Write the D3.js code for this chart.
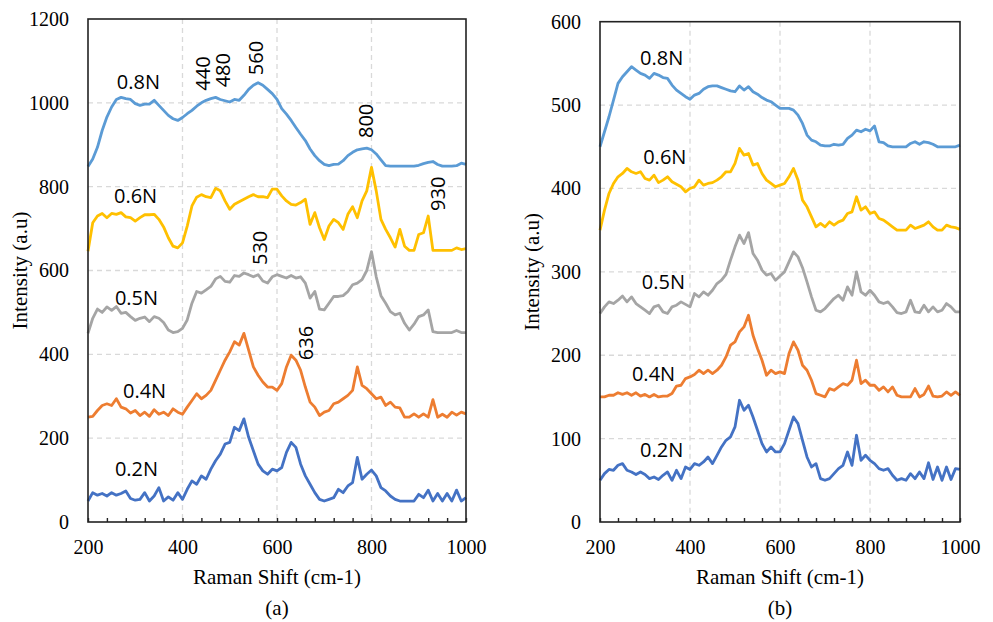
<!DOCTYPE html>
<html><head><meta charset="utf-8">
<script src="https://cdn.jsdelivr.net/npm/d3@7"></script>
<style>
body{margin:0;background:#fff}
.serif{font-family:"Liberation Serif","Times New Roman",Times,"DejaVu Serif",serif;}
.sans{font-family:"Open Sans","Noto Sans",sans-serif;}
</style>
</head><body>
<svg id="c" width="993" height="622"></svg>
<script>
// Raman shift grid (cm-1)
const shift = [200,210,220,230,240,250,260,270,280,290,300,310,320,330,340,350,360,370,380,390,
400,410,420,430,440,450,460,470,480,490,500,510,520,530,540,550,560,570,580,590,
600,610,620,630,640,650,660,670,680,690,700,710,720,730,740,750,760,770,780,790,
800,810,820,830,840,850,860,870,880,890,900,910,920,930,940,950,960,970,980,990,1000];

const seriesNames = ["0.8N","0.6N","0.5N","0.4N","0.2N"];
const seriesColors = ["#5B9BD5","#FFC000","#A5A5A5","#ED7D31","#4472C4"];

// Panel (a)
const a08 = [848,866,894,934,966,990,1008,1013,1010,1008,
998,994,997,997,1006,994,982,970,962,958,
965,974,982,992,1000,1006,1010,1013,1008,1005,
1002,1008,1006,1018,1032,1042,1048,1042,1032,1022,
1008,986,973,958,941,925,910,890,874,862,
853,850,853,854,862,874,882,888,890,892,
888,878,864,850,849,849,849,849,849,849,
851,855,858,860,853,849,849,849,850,856,853];
const a06 = [646,714,730,736,726,736,734,738,728,726,
718,726,733,733,734,722,704,678,658,654,
666,706,754,775,781,776,774,796,790,766,
746,758,764,770,776,781,776,776,774,794,
794,778,766,758,756,762,770,710,738,702,
674,706,722,714,698,734,752,726,766,790,
846,790,722,698,678,656,698,658,648,648,
686,690,730,648,648,648,648,648,654,650,652];
const a05 = [450,486,508,500,513,505,514,498,500,490,
481,486,489,478,490,486,476,458,452,454,
462,482,522,550,546,554,562,580,586,574,
572,588,586,594,590,585,590,575,570,585,
590,586,582,588,582,585,570,534,550,508,
506,522,538,538,540,550,566,570,578,600,
645,585,540,522,502,494,498,474,458,472,
490,494,506,454,452,452,452,452,457,452,452];
const a04 = [250,252,266,278,282,278,294,274,270,260,
266,254,262,252,268,257,262,254,270,262,
257,274,290,306,294,302,314,338,362,386,
406,430,422,450,410,370,350,334,322,322,
314,330,370,398,386,362,322,286,274,254,
262,266,282,286,294,302,314,370,326,318,
306,294,298,278,286,274,272,250,250,258,
250,258,250,292,250,257,250,262,255,262,258];
const a02 = [50,70,64,68,62,70,64,68,74,56,
52,54,70,50,62,82,50,60,52,70,
54,78,98,90,110,102,126,146,162,186,
190,226,218,246,202,170,138,122,114,126,
122,130,166,190,178,138,110,90,70,54,
50,54,58,78,70,86,94,154,102,114,
124,110,82,74,62,54,50,50,50,50,
66,58,76,50,68,50,68,50,76,50,58];

// Panel (b)
const b08 = [450,468,486,506,526,534,540,546,542,538,
536,532,538,536,533,532,524,518,514,510,
507,512,514,519,522,523,523,521,519,517,
516,523,518,522,516,513,509,506,504,500,
496,496,496,494,488,478,464,458,456,452,
451,451,453,452,453,460,464,470,468,471,
469,475,456,455,451,450,450,450,450,454,
456,453,456,455,453,450,450,450,450,450,452];
const b06 = [350,374,394,406,414,418,424,420,418,420,
412,410,416,407,410,414,408,405,402,396,
400,402,410,404,406,407,410,414,420,420,
430,448,440,442,428,430,418,410,406,402,
404,406,414,424,410,386,378,366,354,358,
354,360,356,360,362,370,372,390,374,378,
370,372,364,362,358,354,350,350,350,356,
352,354,356,360,354,350,350,356,354,353,351];
const b05 = [250,258,264,262,266,271,264,270,262,258,
254,250,258,260,252,250,258,260,264,261,
258,274,270,276,272,278,286,290,297,314,
330,344,334,347,322,314,302,296,298,290,
295,300,312,324,318,305,288,270,254,252,
256,262,268,272,266,282,272,300,276,272,
278,272,264,262,264,258,251,250,252,266,
252,251,260,252,258,252,254,262,258,252,252];
const b04 = [150,150,152,152,155,153,155,152,155,151,
153,150,153,150,151,151,154,163,164,172,
174,177,182,178,182,178,182,188,198,212,
216,228,234,248,224,208,194,176,182,178,
180,178,202,216,206,188,182,170,154,152,
150,160,158,162,166,164,170,194,166,170,
164,164,158,162,156,162,152,150,150,150,
160,150,153,163,151,150,151,156,152,156,152];
const b02 = [50,58,63,62,68,70,62,60,57,60,
57,52,54,51,56,60,50,62,52,66,
63,70,68,72,78,70,80,90,98,102,
114,146,134,140,126,110,94,84,90,84,
84,94,110,126,118,98,78,66,70,52,
50,52,58,64,68,84,68,104,74,80,
74,70,64,62,64,56,50,52,50,58,
52,60,52,71,51,66,50,66,51,64,63];

const xTicks = [200,400,600,800,1000];
const xMinorTicks = [200,240,280,320,360,400,440,480,520,560,600,640,680,720,760,800,840,880,920,960,1000];
const yTicksA = [0,200,400,600,800,1000,1200];
const yTicksB = [0,100,200,300,400,500,600];

// label anchors in data units
const labelPosA = [[261,1033],[255,761],[257,517],[274,295],[257,109]];
const labelPosB = [[289,548],[296,429],[293,279],[271,169],[289,78]];
const peakTextA = ["440","480","560","800","930","530","636"];
const peakPosA = [[458,1029],[500,1037],[570,1066],[803,916],[955,742],[578,613],[676,386]];

const svg = d3.select("#c");
svg.append("rect").attr("width",993).attr("height",622).attr("fill","#fff");
const fmt = d3.format("d");

function panel(cfg){
  const g = svg.append("g");
  const x = d3.scaleLinear().domain([200,1000]).range([cfg.x0,cfg.x1]);
  const y = d3.scaleLinear().domain([0,cfg.yMax]).range([cfg.yb,cfg.yt]);
  // grid
  g.selectAll(".hg").data(cfg.yTicks.filter(v=>v>0 && v<cfg.yMax)).enter().append("line")
    .attr("x1",cfg.x0).attr("x2",cfg.x1).attr("y1",d=>y(d)).attr("y2",d=>y(d))
    .attr("stroke","#d9d9d9").attr("stroke-width",1.3).attr("stroke-dasharray","5,4");
  g.selectAll(".vg").data(xTicks.filter(v=>v>200 && v<1000)).enter().append("line")
    .attr("x1",d=>x(d)).attr("x2",d=>x(d)).attr("y1",cfg.yt).attr("y2",cfg.yb)
    .attr("stroke","#d9d9d9").attr("stroke-width",1.3).attr("stroke-dasharray","5,4");
  // lines
  const line = d3.line().x((d,i)=>x(shift[i])).y(d=>y(d));
  cfg.series.forEach((s,i)=>{
    g.append("path").datum(s).attr("d",line).attr("fill","none")
      .attr("stroke",seriesColors[i]).attr("stroke-width",2.8).attr("stroke-linejoin","round");
  });
  // border
  g.append("rect").attr("x",cfg.x0).attr("y",cfg.yt).attr("width",cfg.x1-cfg.x0).attr("height",cfg.yb-cfg.yt)
    .attr("fill","none").attr("stroke","#222").attr("stroke-width",1.6);
  // minor ticks
  const minor = g.append("g").attr("transform",`translate(0,${cfg.yb})`)
    .call(d3.axisBottom(x).tickValues(xMinorTicks).tickSizeInner(-4).tickSizeOuter(0).tickFormat(""));
  minor.select(".domain").remove();
  minor.selectAll("line").attr("stroke","#222").attr("stroke-width",1.4);
  // x labels
  const xa = g.append("g").attr("transform",`translate(0,${cfg.yb})`)
    .call(d3.axisBottom(x).tickValues(xTicks).tickSize(0).tickPadding(18).tickFormat(fmt));
  xa.select(".domain").remove();
  xa.attr("font-family",null);
  xa.selectAll("text").attr("class","serif").attr("font-size",20).attr("fill","#000");
  // y labels
  const ya = g.append("g").attr("transform",`translate(${cfg.x0},0)`)
    .call(d3.axisLeft(y).tickValues(cfg.yTicks).tickSize(0).tickPadding(19).tickFormat(fmt));
  ya.select(".domain").remove();
  ya.attr("font-family",null);
  ya.selectAll("text").attr("class","serif").attr("font-size",20).attr("fill","#000");
  // titles
  g.append("text").attr("class","serif").attr("x",(cfg.x0+cfg.x1)/2).attr("y",584).attr("text-anchor","middle")
    .attr("font-size",21).text("Raman Shift (cm-1)");
  g.append("text").attr("class","serif").attr("x",(cfg.x0+cfg.x1)/2).attr("y",615).attr("text-anchor","middle")
    .attr("font-size",21).text(cfg.tag);
  g.append("text").attr("class","serif").attr("transform",`translate(${cfg.ytx},${(cfg.yt+cfg.yb)/2}) rotate(-90)`)
    .attr("text-anchor","middle").attr("font-size",21).text("Intensity (a.u)");
  // series labels
  cfg.labelPos.forEach((p,i)=>{
    g.append("text").attr("class","sans").attr("x",x(p[0])).attr("y",y(p[1]))
      .attr("font-size",20).attr("fill","#000").text(seriesNames[i]);
  });
  (cfg.peakPos||[]).forEach((p,i)=>{
    g.append("text").attr("class","sans").attr("transform",`translate(${x(p[0])},${y(p[1])}) rotate(-90)`)
      .attr("font-size",20).attr("fill","#000").text(cfg.peakText[i]);
  });
}

panel({x0:88,x1:466,yt:19,yb:522,yMax:1200,yTicks:yTicksA,
  series:[a08,a06,a05,a04,a02],labelPos:labelPosA,peakPos:peakPosA,peakText:peakTextA,tag:"(a)",ytx:27});
panel({x0:600,x1:960,yt:21.7,yb:522,yMax:600,yTicks:yTicksB,
  series:[b08,b06,b05,b04,b02],labelPos:labelPosB,tag:"(b)",ytx:539});
</script>
</body></html>
